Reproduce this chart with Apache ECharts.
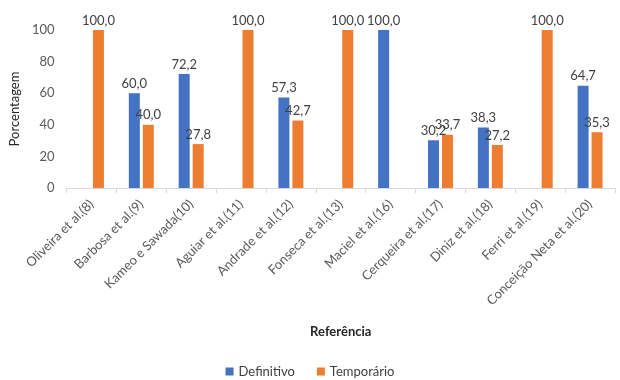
<!DOCTYPE html>
<html>
<head>
<meta charset="utf-8">
<script src="https://cdn.jsdelivr.net/npm/echarts@6/dist/echarts.min.js"></script>
<style>html,body{margin:0;padding:0;background:#fff}#c{width:620px;height:380px}</style>
</head>
<body>
<div id="c"></div>
<script>
const categories = ["Oliveira et al.(8)","Barbosa et al.(9)","Kameo e Sawada(10)","Aguiar et al.(11)","Andrade et al.(12)","Fonseca et al.(13)","Maciel et al.(16)","Cerqueira et al.(17)","Diniz et al.(18)","Ferri et al.(19)","Conceição Neta et al.(20)"];
const definitivo = [null, 60.0, 72.2, null, 57.3, null, 100.0, 30.2, 38.3, null, 64.7];
const temporario = [100.0, 40.0, 27.8, 100.0, 42.7, 100.0, null, 33.7, 27.2, 100.0, 35.3];
const yTicks = [0, 20, 40, 60, 80, 100];

const FONT = 'Lato';
const fmt = p => p.value == null ? '' : p.value.toFixed(1).replace('.', ',');
const chart = echarts.init(document.getElementById('c'), null, {renderer: 'canvas'});
chart.setOption({
  animation: false,
  textStyle: {fontFamily: FONT},
  grid: {left: 65, right: 5, top: 30, bottom: 192, containLabel: false},
  legend: {
    top: 365, left: 'center', padding: 0,
    icon: 'rect', itemWidth: 8, itemHeight: 8, itemGap: 22,
    textStyle: {fontFamily: FONT, fontSize: 13, color: '#404040'},
    data: ['Definitivo', 'Temporário']
  },
  xAxis: {
    type: 'category', data: categories,
    name: 'Referência', nameLocation: 'middle', nameGap: 137,
    nameTextStyle: {fontFamily: FONT, fontSize: 13, fontWeight: 'bold', color: '#262626'},
    axisLine: {lineStyle: {color: '#d9d9d9'}},
    axisTick: {show: true, lineStyle: {color: '#d9d9d9'}, length: 5},
    axisLabel: {rotate: 45, interval: 0, fontSize: 13, color: '#595959', margin: 14, fontFamily: FONT}
  },
  yAxis: {
    type: 'value', min: yTicks[0], max: yTicks[yTicks.length - 1], interval: 20,
    name: 'Porcentagem', nameLocation: 'middle', nameGap: 42,
    nameTextStyle: {fontFamily: FONT, fontSize: 13, color: '#262626'},
    axisLine: {show: false}, axisTick: {show: false},
    splitLine: {show: false},
    axisLabel: {fontSize: 13, color: '#595959', margin: 12, fontFamily: FONT}
  },
  series: [
    {name: 'Definitivo', type: 'bar', data: definitivo, barWidth: 11, barGap: '27%',
     itemStyle: {color: '#4472C4'},
     label: {show: true, position: 'top', distance: 3, formatter: fmt, fontSize: 13, color: '#404040', fontFamily: FONT}},
    {name: 'Temporário', type: 'bar', data: temporario, barWidth: 11, barGap: '27%',
     itemStyle: {color: '#ED7D31'},
     label: {show: true, position: 'top', distance: 3, formatter: fmt, fontSize: 13, color: '#404040', fontFamily: FONT}}
  ]
});
</script>
</body>
</html>
